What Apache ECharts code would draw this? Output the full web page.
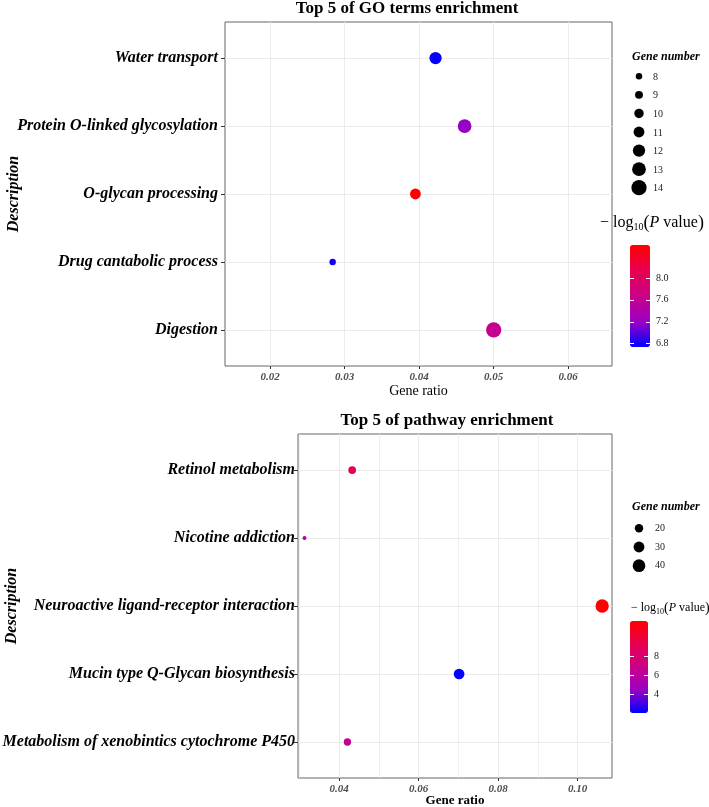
<!DOCTYPE html>
<html><head><meta charset="utf-8">
<script src="https://cdn.jsdelivr.net/npm/echarts@6/dist/echarts.min.js"></script>
<style>html,body{margin:0;padding:0;background:#fff}#c{width:709px;height:807px}</style>
</head><body><div id="c"></div>
<script>
// ---------- data ----------
const goTerms = ['Water transport','Protein O-linked glycosylation','O-glycan processing','Drug cantabolic process','Digestion'];
const goRatio = [0.0422, 0.0461, 0.0395, 0.0284, 0.0500];
const goCount = [12, 13, 11, 8, 14];
const goLogP  = [6.75, 7.2, 8.6, 6.8, 7.63];
const goRatioTicks = [0.02, 0.03, 0.04, 0.05, 0.06];
const goRatioRange = [0.01396, 0.06587];
const goSizeBreaks = [8, 9, 10, 11, 12, 13, 14];
const goColorTicks = [6.8, 7.2, 7.6, 8.0];
const goColorRange = [6.74, 8.6];

const pwTerms = ['Retinol metabolism','Nicotine addiction','Neuroactive ligand-receptor interaction','Mucin type Q-Glycan biosynthesis','Metabolism of xenobintics cytochrome P450'];
const pwRatio = [0.0433, 0.0313, 0.1062, 0.0702, 0.0421];
const pwCount = [18, 13, 44, 29, 17];
const pwLogP  = [9.0, 5.9, 11.8, 2.0, 6.6];
const pwRatioTicks = [0.04, 0.06, 0.08, 0.10];
const pwRatioMinor = [0.03, 0.05, 0.07, 0.09];
const pwRatioRange = [0.02966, 0.10868];
const pwSizeBreaks = [20, 30, 40];
const pwColorTicks = [4, 6, 8];
const pwColorRange = [2.0, 11.8];

const termIndex = [0, 1, 2, 3, 4];
const catRange = [-0.53, 4.53];

// ---------- styling ----------
const FONT = 'Liberation Serif';
const gradient = ['#0000FF', '#9A00C2', '#CA0089', '#E80050', '#FF0000'];
const gridColor = '#EBEBEB';

const goMin = Math.min(...goCount), goMax = Math.max(...goCount);
function goSize(c) { return 6.5 + 1.45 * (c - goMin) / (goMax - goMin) * 6; }
const pwMin = Math.min(...pwCount), pwMax = Math.max(...pwCount);
function pwSize(c) { const s = 1 + 5 * Math.sqrt(Math.max(0, c - pwMin) / (pwMax - pwMin)); return 1.86 * s + 2.14; }

function mainX(gi, range, ticks) {
  return {
    type: 'value', gridIndex: gi, min: range[0], max: range[1], position: 'bottom',
    axisLine: { show: false, onZero: false },
    axisTick: { show: true, customValues: ticks, length: 3, lineStyle: { color: '#333' } },
    axisLabel: { customValues: ticks, formatter: v => v.toFixed(2), fontFamily: FONT, fontStyle: 'italic', fontWeight: 'bold', fontSize: 11, color: '#4D4D4D', margin: 6 },
    splitLine: { show: true, lineStyle: { color: gridColor, width: 1 } }
  };
}
function mainY(gi, terms, gap, margin) {
  return {
    type: 'value', gridIndex: gi, min: catRange[0], max: catRange[1], inverse: true, position: 'left',
    name: 'Description', nameLocation: 'middle', nameGap: gap, nameRotate: 90, nameMoveOverlap: false,
    nameTextStyle: { fontFamily: FONT, fontStyle: 'italic', fontWeight: 'bold', fontSize: 16, color: '#000' },
    axisLine: { show: false, onZero: false },
    axisTick: { show: true, customValues: termIndex, length: 4, lineStyle: { color: '#333' } },
    axisLabel: { customValues: termIndex, formatter: v => terms[Math.round(v)], fontFamily: FONT, fontStyle: 'italic', fontWeight: 'bold', fontSize: 16, color: '#000', margin: margin },
    splitLine: { show: true, lineStyle: { color: gridColor, width: 1 } }
  };
}
function hiddenAxis(gi, min, max, inverse) {
  return { type: 'value', gridIndex: gi, min: min, max: max, inverse: !!inverse, show: false, axisLine: { onZero: false } };
}
function barTickAxis(gi, range, ticks, pos, withLabels, dec) {
  return {
    type: 'value', gridIndex: gi, min: range[0], max: range[1], position: pos, z: 10,
    axisLine: { show: false, onZero: false },
    axisTick: { show: true, inside: true, customValues: ticks, length: 4, lineStyle: { color: '#FFFFFF', width: 1 } },
    axisLabel: { show: withLabels, customValues: ticks, formatter: v => v.toFixed(dec), fontFamily: FONT, fontSize: 10, color: '#1A1A1A', margin: 6 },
    splitLine: { show: false }
  };
}
function logTitle(x, y, fs) {
  return { type: 'text', x: x, y: y, style: {
    text: '− log{sub|10}{par|(}{i|P} value{par|)}', fontFamily: FONT, fontSize: fs, fill: '#000', align: 'left', verticalAlign: 'middle',
    rich: {
      sub: { fontFamily: FONT, fontSize: Math.round(fs * 0.65), fill: '#000', padding: [Math.round(fs * 0.55), 0, 0, 0] },
      i: { fontFamily: FONT, fontStyle: 'italic', fontSize: fs, fill: '#000' },
      par: { fontFamily: FONT, fontSize: Math.round(fs * 1.15), fill: '#000' }
    } } };
}
function grid(l, t, w, h, framed) {
  const g = { left: l, top: t, width: w, height: h, containLabel: false, outerBoundsMode: 'none' };
  if (framed) Object.assign(g, { show: true, borderColor: '#666', borderWidth: 1, backgroundColor: '#fff' });
  return g;
}

const option = {
  backgroundColor: '#fff',
  animation: false,
  grid: [
    grid(225, 22, 387, 344, true),
    grid(298, 434, 314, 344, true),
    grid(629, 67, 20, 130),    // GO size legend
    grid(629, 519, 20, 56),    // pathway size legend
    grid(630, 245, 20, 102),   // GO colorbar ticks
    grid(630, 621, 18, 92)     // pathway colorbar ticks
  ],
  xAxis: [
    Object.assign(mainX(0, goRatioRange, goRatioTicks), { name: 'Gene ratio', nameLocation: 'middle', nameGap: 18, nameMoveOverlap: false, nameTextStyle: { fontFamily: FONT, fontSize: 14, color: '#000', verticalAlign: 'top' } }),
    Object.assign(mainX(1, pwRatioRange, pwRatioTicks), { name: 'Gene ratio', nameLocation: 'middle', nameGap: 16, nameMoveOverlap: false, nameTextStyle: { fontFamily: FONT, fontWeight: 'bold', fontSize: 13, color: '#000', verticalAlign: 'top' } }),
    hiddenAxis(2, -1, 1),
    hiddenAxis(3, -1, 1),
    hiddenAxis(4, 0, 1),
    hiddenAxis(5, 0, 1),
    { type: 'value', gridIndex: 1, min: pwRatioRange[0], max: pwRatioRange[1], position: 'top',
      axisLine: { show: false, onZero: false }, axisLabel: { show: false },
      axisTick: { show: false, customValues: pwRatioMinor },
      splitLine: { show: true, lineStyle: { color: gridColor, width: 0.8 } } }
  ],
  yAxis: [
    mainY(0, goTerms, 203, 7),
    mainY(1, pwTerms, 278, 3),
    hiddenAxis(2, -0.5, goSizeBreaks.length - 0.5, true),
    hiddenAxis(3, -0.5, pwSizeBreaks.length - 0.5, true),
    barTickAxis(4, goColorRange, goColorTicks, 'right', true, 1),
    barTickAxis(4, goColorRange, goColorTicks, 'left', false, 1),
    barTickAxis(5, pwColorRange, pwColorTicks, 'right', true, 0),
    barTickAxis(5, pwColorRange, pwColorTicks, 'left', false, 0)
  ],
  visualMap: [
    { type: 'continuous', seriesIndex: 0, dimension: 3, min: goColorRange[0], max: goColorRange[1],
      inRange: { color: gradient }, orient: 'vertical', left: 630, top: 245, itemWidth: 20, itemHeight: 102,
      calculable: false, hoverLink: false, padding: 0, text: null },
    { type: 'continuous', seriesIndex: 1, dimension: 3, min: pwColorRange[0], max: pwColorRange[1],
      inRange: { color: gradient }, orient: 'vertical', left: 630, top: 621, itemWidth: 18, itemHeight: 92,
      calculable: false, hoverLink: false, padding: 0, text: null }
  ],
  series: [
    { type: 'scatter', xAxisIndex: 0, yAxisIndex: 0, z: 5,
      data: termIndex.map(i => [goRatio[i], i, goCount[i], goLogP[i]]),
      symbolSize: v => goSize(v[2]), itemStyle: { opacity: 1 } },
    { type: 'scatter', xAxisIndex: 1, yAxisIndex: 1, z: 5,
      data: termIndex.map(i => [pwRatio[i], i, pwCount[i], pwLogP[i]]),
      symbolSize: v => pwSize(v[2]), itemStyle: { opacity: 1 } },
    { type: 'scatter', xAxisIndex: 2, yAxisIndex: 2, silent: true,
      data: goSizeBreaks.map((v, i) => [0, i, v]),
      symbolSize: v => goSize(v[2]), itemStyle: { color: '#000', opacity: 1 },
      label: { show: true, position: 'inside', align: 'left', offset: [14, 1], formatter: p => String(p.value[2]), fontFamily: FONT, fontSize: 10, color: '#1A1A1A' } },
    { type: 'scatter', xAxisIndex: 3, yAxisIndex: 3, silent: true,
      data: pwSizeBreaks.map((v, i) => [0, i, v]),
      symbolSize: v => pwSize(v[2]), itemStyle: { color: '#000', opacity: 1 },
      label: { show: true, position: 'inside', align: 'left', offset: [16, 0], formatter: p => String(p.value[2]), fontFamily: FONT, fontSize: 10, color: '#1A1A1A' } }
  ],
  graphic: [
    { type: 'text', x: 407, y: 9, style: { text: 'Top 5 of GO terms enrichment', fontFamily: FONT, fontWeight: 'bold', fontSize: 17, fill: '#000', align: 'center', verticalAlign: 'middle' } },
    { type: 'text', x: 447, y: 421, style: { text: 'Top 5 of pathway enrichment', fontFamily: FONT, fontWeight: 'bold', fontSize: 17, fill: '#000', align: 'center', verticalAlign: 'middle' } },
    { type: 'text', x: 632, y: 57, style: { text: 'Gene number', fontFamily: FONT, fontWeight: 'bold', fontStyle: 'italic', fontSize: 12, fill: '#000', align: 'left', verticalAlign: 'middle' } },
    { type: 'text', x: 632, y: 507, style: { text: 'Gene number', fontFamily: FONT, fontWeight: 'bold', fontStyle: 'italic', fontSize: 12, fill: '#000', align: 'left', verticalAlign: 'middle' } },
    logTitle(600, 223, 16),
    logTitle(631, 608, 12)
  ]
};
const chart = echarts.init(document.getElementById('c'), null, { renderer: 'canvas' });
chart.setOption(option);
</script></body></html>
